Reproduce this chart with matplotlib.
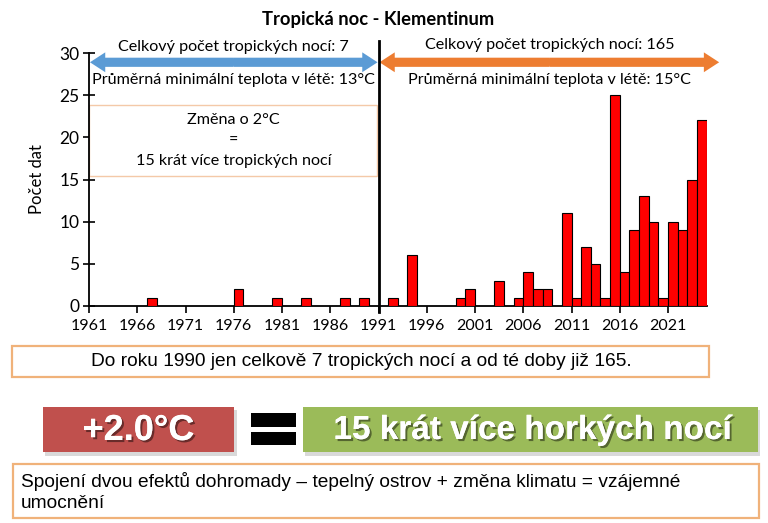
import numpy as np
import matplotlib
matplotlib.use("Agg")
import matplotlib.pyplot as plt
from matplotlib.patches import Rectangle, FancyArrowPatch
import matplotlib.patheffects as pe

# tropical nights per year, Klementinum
years = [1967, 1976, 1980, 1983, 1987, 1989,
         1992, 1994, 1999, 2000, 2003, 2005, 2006, 2007, 2008,
         2010, 2011, 2012, 2013, 2014, 2015, 2016, 2017, 2018,
         2019, 2020, 2021, 2022, 2023, 2024]
nights = [1, 2, 1, 1, 1, 1,
          1, 6, 1, 2, 3, 1, 4, 2, 2,
          11, 1, 7, 5, 1, 25, 4, 9, 13,
          10, 1, 10, 9, 15, 22]
tick_years = list(range(1961, 2022, 5))
y_ticks = [0, 5, 10, 15, 20, 25, 30]

title = "Tropická noc - Klementinum"
left_total = "Celkový počet tropických nocí: 7"
left_temp = "Průměrná minimální teplota v létě: 13°C"
right_total = "Celkový počet tropických nocí: 165"
right_temp = "Průměrná minimální teplota v létě: 15°C"
box_lines = ["Změna o 2°C", "=", "15 krát více tropických nocí"]
summary = "Do roku 1990 jen celkově 7 tropických nocí a od té doby již 165."
big_left = "+2.0°C"
big_right = "15 krát více horkých nocí"
footer = "Spojení dvou efektů dohromady – tepelný ostrov + změna klimatu = vzájemné\numocnění"

W, H = 768, 523
START = 1961
SPLIT = 1991

plt.rcParams["font.family"] = ["Lato", "DejaVu Sans"]
fig = plt.figure(figsize=(W / 100, H / 100), dpi=100)
fig.patch.set_facecolor("white")


def fx(x):
    return x / W


def fy(y):
    return 1 - y / H


ax = fig.add_axes([fx(89), fy(306), fx(706.6) - fx(89), fy(53) - fy(306)])

xpos = np.array(years) - START + 0.5
ax.bar(xpos, nights, width=1.0, color="#ff0000", edgecolor="black", linewidth=0.8, zorder=3)

ax.set_xlim(0, 64)
ax.set_ylim(0, 30)
ax.set_xticks([y - START for y in tick_years])
ax.set_xticklabels([str(y) for y in tick_years], fontsize=11.5)
ax.set_yticks(y_ticks)
ax.set_yticklabels([str(v) for v in y_ticks], fontsize=12.5)
ax.tick_params(axis="x", direction="out", length=5, width=1.2, pad=4)
ax.tick_params(axis="y", direction="inout", length=8, width=1.2, pad=3)
for s in ["top", "right"]:
    ax.spines[s].set_visible(False)
for s in ["left", "bottom"]:
    ax.spines[s].set_linewidth(1.3)
ax.set_ylabel("Počet dat", fontsize=12, labelpad=10)

# divider at 1991
split = SPLIT - START
ax.plot([split, split], [-0.7, 31.4], color="black", lw=2.0, clip_on=False, zorder=5)

# period arrows
arrow_y = 28.9
for x0, x1, col in [(0.1, split - 0.1, "#5b9bd5"), (split + 0.1, 65.3, "#ed7d31")]:
    mid = (x0 + x1) / 2
    for end in (x0, x1):
        a = FancyArrowPatch((mid, arrow_y), (end, arrow_y),
                            arrowstyle="simple,head_length=1.0,head_width=1.3,tail_width=0.6",
                            mutation_scale=11, color=col, lw=0, shrinkA=0, shrinkB=0,
                            clip_on=False, zorder=4)
        ax.add_patch(a)
    ax.plot([x0 + 1.5, x1 - 1.5], [arrow_y, arrow_y], color=col, lw=5.5,
            solid_capstyle="butt", clip_on=False, zorder=4)

fs = 11.6
ax.text(split / 2, 30.7, left_total, ha="center", va="center", fontsize=fs, clip_on=False)
ax.text(split / 2, 26.8, left_temp, ha="center", va="center", fontsize=fs)
ax.text((split + 64) / 2 + 0.7, 30.9, right_total, ha="center", va="center", fontsize=fs, clip_on=False)
ax.text((split + 64) / 2 + 0.7, 26.8, right_temp, ha="center", va="center", fontsize=fs)

# box with the summary inside the chart
ax.add_patch(Rectangle((0, 15.4), split - 0.2, 8.4, facecolor="white",
                       edgecolor="#f4c9a8", lw=1.0, zorder=2))
for yy, line in zip([22.1, 19.6, 17.2], box_lines):
    ax.text(split / 2, yy, line, ha="center", va="center", fontsize=fs)

fig.text(fx(378), fy(20), title, ha="center", va="center", fontsize=13.2, fontweight="bold")

# lower panel
sans = ["Liberation Sans", "DejaVu Sans"]


def fig_rect(x0, y0, x1, y1, **kw):
    r = Rectangle((fx(x0), fy(y1)), fx(x1) - fx(x0), fy(y0) - fy(y1),
                  transform=fig.transFigure, **kw)
    fig.add_artist(r)


fig_rect(12, 346, 709, 377, facecolor="white", edgecolor="#f0b27a", lw=1.6)
fig.text(fx(361), fy(361.5), summary, ha="center", va="center", fontsize=13.8, family=sans)

# shadows then coloured boxes
fig_rect(45, 410, 237, 456, facecolor="#d9d9d9", edgecolor="none")
fig_rect(43, 407, 234, 452, facecolor="#c0504d", edgecolor="none")
fig_rect(305, 410, 760, 456, facecolor="#d9d9d9", edgecolor="none")
fig_rect(303, 407, 758, 452, facecolor="#9bbb59", edgecolor="none")
fig_rect(251, 413, 296, 426.5, facecolor="black", edgecolor="none")
fig_rect(251, 431.5, 296, 445, facecolor="black", edgecolor="none")

shadow = [pe.withSimplePatchShadow(offset=(1.5, -1.5), shadow_rgbFace="black", alpha=0.45), pe.Normal()]
fig.text(fx(138.5), fy(430.5), big_left, ha="center", va="center", fontsize=26,
         fontweight="bold", color="white", family=sans, path_effects=shadow)
fig.text(fx(533), fy(430.5), big_right, ha="center", va="center", fontsize=24,
         fontweight="bold", color="white", family=sans, path_effects=shadow)

fig_rect(13, 464, 759, 518, facecolor="white", edgecolor="#f0b27a", lw=1.6)
fig.text(fx(21), fy(492), footer, ha="left", va="center", fontsize=13.8,
         family=sans, linespacing=1.25)

fig.savefig("out.png", dpi=100)
